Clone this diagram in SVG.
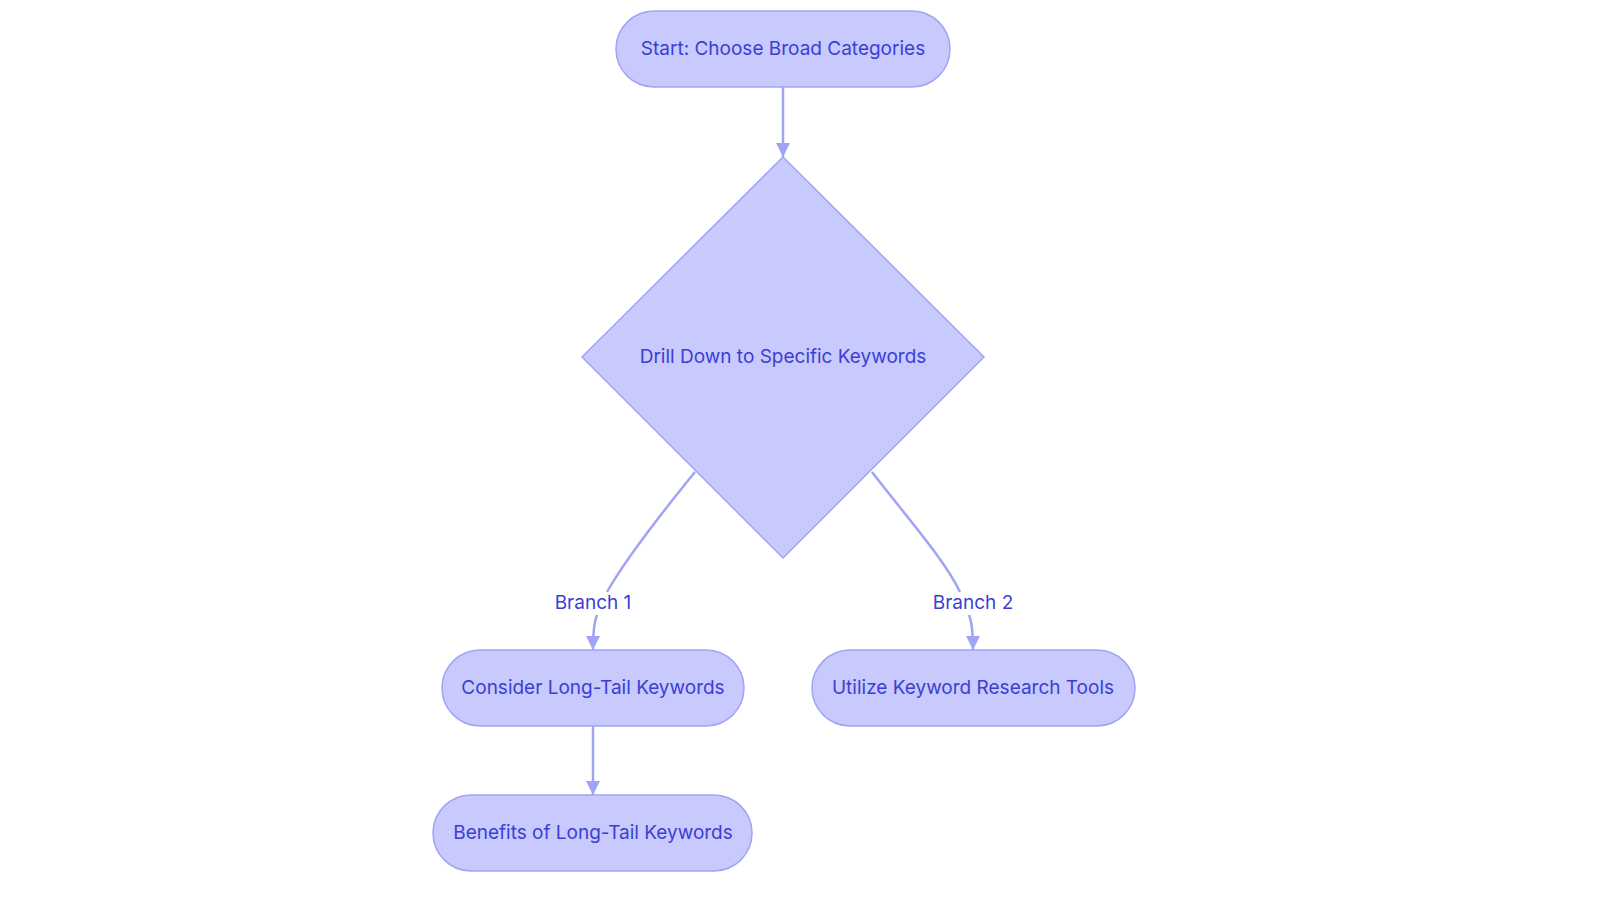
<svg xmlns="http://www.w3.org/2000/svg" width="1600" height="903" viewBox="0 0 1600 903">
<style>
.n{fill:#c8c9fd;stroke:#a0a4f4;stroke-width:1.5}
.t{font-family:Inter,"Noto Sans",sans-serif;font-size:19px;fill:#3a3fd4;text-anchor:middle;dominant-baseline:central}
.e{fill:none;stroke:#a0a4f4;stroke-width:2.5}
</style>
<defs><marker id="a" viewBox="0 0 10 10" refX="10" refY="5" markerWidth="14" markerHeight="14" orient="auto" markerUnits="userSpaceOnUse"><path d="M0,0L10,5L0,10z" fill="#a0a4f4"/></marker></defs>
<rect width="1600" height="903" fill="#fff"/>
<g id="connectors">
<path class="e" d="M783,87L783,157" marker-end="url(#a)"/>
<path class="e" d="M695,472C660,515 625,560 607,592"/>
<path class="e" d="M597,615C593,625 593,638 593,650" marker-end="url(#a)"/>
<path class="e" d="M872,472C905,515 945,560 960,592"/>
<path class="e" d="M969,615C973,625 973,638 973,650" marker-end="url(#a)"/>
<path class="e" d="M593,726L593,795" marker-end="url(#a)"/>
<text class="t" x="593" y="602">Branch 1</text>
<text class="t" x="973" y="602">Branch 2</text>
</g>
<g id="start"><rect class="n" x="616" y="11" width="334" height="76" rx="38"/><text class="t" x="783" y="48">Start: Choose Broad Categories</text></g>
<g id="drill"><path class="n" d="M783,157L984,357L783,558L582,357z"/><text class="t" x="783" y="356">Drill Down to Specific Keywords</text></g>
<g id="consider"><rect class="n" x="442" y="650" width="302" height="76" rx="38"/><text class="t" x="593" y="687">Consider Long-Tail Keywords</text></g>
<g id="utilize"><rect class="n" x="812" y="650" width="323" height="76" rx="38"/><text class="t" x="973" y="687">Utilize Keyword Research Tools</text></g>
<g id="benefits"><rect class="n" x="433" y="795" width="319" height="76" rx="38"/><text class="t" x="593" y="832">Benefits of Long-Tail Keywords</text></g>
</svg>
